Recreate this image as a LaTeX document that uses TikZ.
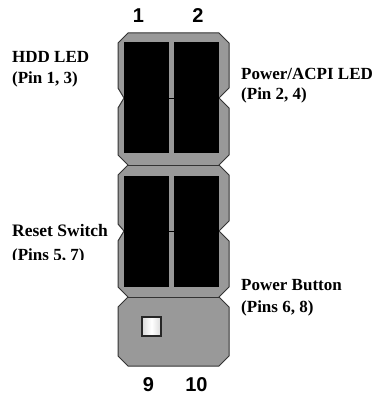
\documentclass[tikz,border=0pt]{standalone}
\usepackage{fontspec}
\setmainfont{Liberation Serif}
\newfontfamily\numfont{Liberation Sans}
\tikzset{
  x=1pt,y=-1pt,
  body/.style={fill=black!40,draw=black!80,line width=1pt,line join=miter},
  pad/.style={fill=black,draw=none},
  lab/.style={anchor=base west,inner sep=0pt,font=\bfseries\fontsize{17}{18}\selectfont},
  num/.style={anchor=base,inner sep=0pt,font=\numfont\bfseries\fontsize{20}{21}\selectfont},
}
\begin{document}
\begin{tikzpicture}
\useasboundingbox (0,0) rectangle (379,396);
% connector bodies
\draw[body] (128,33) -- (219,33) -- (229,43) -- (229,88) -- (219,98) -- (229,108) -- (229,155) -- (219,165)
  -- (229,175) -- (229,221) -- (219,231) -- (229,241) -- (229,287) -- (219,297) -- (229,307) -- (229,356) -- (219,366)
  -- (128,366) -- (118,356) -- (118,307) -- (128,297) -- (118,287) -- (118,241) -- (124,231) -- (118,224) -- (118,175)
  -- (128,165) -- (118,155) -- (118,108) -- (124,98) -- (118,88) -- (118,43) -- cycle;
\draw[black!80,line width=1pt] (128,165) -- (219,165) (128,297) -- (219,297);
% pins
\fill[pad] (124,42) rectangle (169,153);
\fill[pad] (174,42) rectangle (219,153);
\fill[pad] (124,176) rectangle (169,287);
\fill[pad] (174,176) rectangle (219,287);
\draw[black,line width=.7pt] (169,98.5) -- (174,98.5) (169,231) -- (174,231);
\path[left color=black!15,right color=black!15,middle color=white,draw=black!85,line width=1.2pt] (142,317) rectangle (161,336);
% labels
\node[num] (n1) at (138.5,23) {1};
\node[num] (n2) at (198,23) {2};
\node[num] (n9) at (148.5,391) {9};
\node[num] (n10) at (196.5,391) {10};
\node[lab] (hdd) at (12,63) {HDD LED};
\node[lab] (hdd2) at (12,84) {(Pin 1, 3)};
\node[lab] (acpi) at (241,79.5) {Power/ACPI LED};
\node[lab] (acpi2) at (241,99) {(Pin 2, 4)};
\begin{scope}
\clip (0,210) rectangle (110,259.5);
\node[lab,font=\bfseries\fontsize{17.5}{18}\selectfont] (reset) at (12,236) {Reset Switch};
\node[lab] (reset2) at (12,260) {(Pins 5, 7)};
\end{scope}
\node[lab] (pb) at (241,290) {Power Button};
\node[lab] (pb2) at (241,312) {(Pins 6, 8)};
\end{tikzpicture}
\end{document}
